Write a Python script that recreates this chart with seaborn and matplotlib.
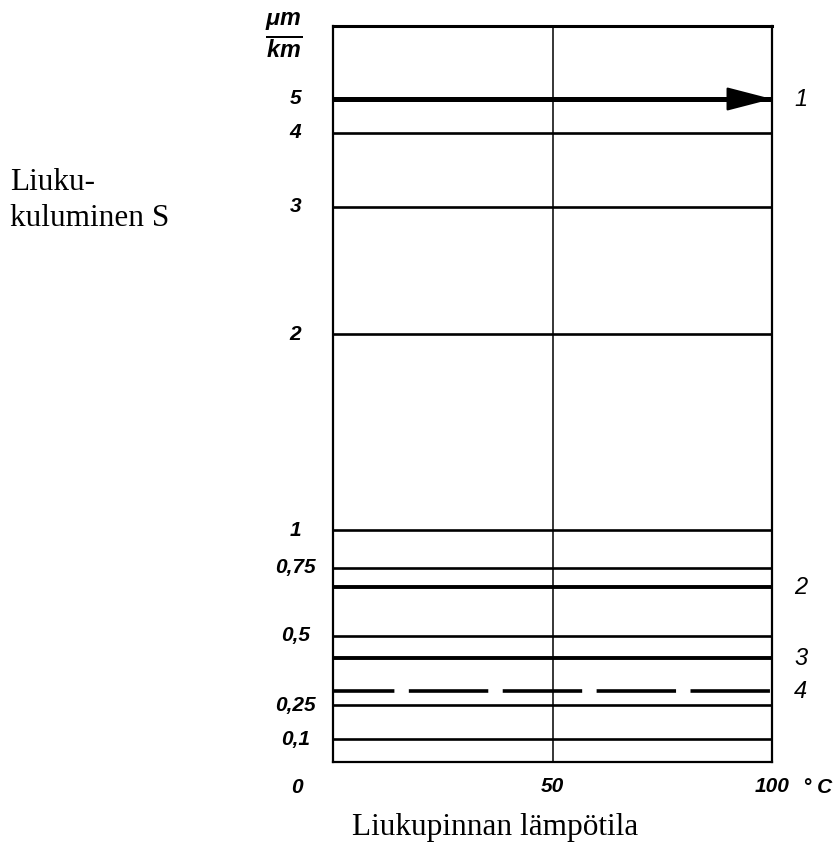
import numpy as np
import pandas as pd
import matplotlib
matplotlib.use("Agg")
import matplotlib.pyplot as plt
import matplotlib.transforms as mtransforms
import seaborn as sns

# ---------------- data ----------------
TEMP = [0, 100]                       # °C, lines are constant over temperature
CURVE_LABELS = ["1", "2", "3", "4"]
CURVE_WEAR = [5.0, 0.68, 0.42, 0.30]  # µm/km
Y_TICKS = [0.1, 0.25, 0.5, 0.75, 1, 2, 3, 4, 5]
Y_TICK_LABELS = ["0,1", "0,25", "0,5", "0,75", "1", "2", "3", "4", "5"]
X_TICKS = [50, 100]
X_TICK_LABELS = ["50", "100"]

# non-linear (hand drawn) value axis: value -> relative position
SCALE_VALS = [0, 0.1, 0.25, 0.5, 0.75, 1, 2, 3, 4, 5, 7]
SCALE_POS = [0, 23, 57, 126, 194, 232, 428, 555, 629, 663, 736]

rows = []
for lab, w in zip(CURVE_LABELS, CURVE_WEAR):
    for t in TEMP:
        rows.append({"curve": lab, "temp": t, "wear": w})
df = pd.DataFrame(rows)

# ---------------- style ----------------
sns.set_style("white")
plt.rcParams["font.family"] = ["Liberation Sans", "DejaVu Sans"]
plt.rcParams["text.color"] = "black"
plt.rcParams["xtick.color"] = "black"
plt.rcParams["ytick.color"] = "black"
plt.rcParams["mathtext.fontset"] = "custom"
plt.rcParams["mathtext.it"] = "Liberation Sans:italic:bold"
plt.rcParams["mathtext.rm"] = "Liberation Sans:bold"

W, H = 834, 846
fig = plt.figure(figsize=(W / 100, H / 100), dpi=100)
ax = fig.add_axes([333 / W, (H - 762) / H, (772 - 333) / W, (762 - 26) / H])

fwd = lambda v: np.interp(v, SCALE_VALS, SCALE_POS)
inv = lambda p: np.interp(p, SCALE_POS, SCALE_VALS)
ax.set_yscale("function", functions=(fwd, inv))

# grid: horizontal lines at each value tick, vertical at 50 °C
ax.set_yticks(Y_TICKS)
ax.set_yticklabels(Y_TICK_LABELS)
ax.set_xticks(X_TICKS)
ax.set_xticklabels(X_TICK_LABELS)
ax.yaxis.grid(True, color="black", lw=1.9)
ax.xaxis.grid(True, color="black", lw=1.1)
ax.set_axisbelow(True)

styles = {
    "1": dict(lw=3.6, ls="-"),
    "2": dict(lw=2.8, ls="-"),
    "3": dict(lw=2.8, ls="-"),
    "4": dict(lw=2.6, ls=(5.0, (22, 4))),
}
for lab in CURVE_LABELS:
    sub = df[df["curve"] == lab]
    st = styles[lab]
    sns.lineplot(data=sub, x="temp", y="wear", ax=ax, color="black",
                 lw=st["lw"], linestyle=st["ls"], legend=False,
                 solid_capstyle="butt", dash_capstyle="butt", zorder=3)

# arrow head on curve 1
w1 = CURVE_WEAR[0]
ax.annotate("", xy=(TEMP[1], w1), xytext=(TEMP[1] - 9.5, w1),
            arrowprops=dict(arrowstyle="-|>,head_length=2.9,head_width=0.75",
                            mutation_scale=10, color="black", lw=1.5,
                            shrinkA=0, shrinkB=0), zorder=4)

ax.set_xlim(0, 100)
ax.set_ylim(0, 7)
ax.set_xlabel("")
ax.set_ylabel("")

for s in ax.spines.values():
    s.set_color("black")
    s.set_linewidth(1.6)
    s.set_visible(True)
ax.spines["top"].set_linewidth(2.2)

tick_font = dict(family=["Liberation Sans", "DejaVu Sans"], weight="bold",
                 style="italic", size=15, color="black")
ax.tick_params(axis="both", length=0)
ax.tick_params(axis="y", pad=27)
ax.tick_params(axis="x", pad=11)
for t in ax.get_yticklabels():
    t.set(ha="center", va="center", **tick_font)
for t in ax.get_xticklabels():
    t.set(**tick_font)

# origin "0" and unit "°C" on the tick-label row
trans = mtransforms.blended_transform_factory(ax.transData, ax.transAxes)
ax.text(-8.2, -0.034, "0", transform=trans, ha="center", va="center",
        clip_on=False, **tick_font)
ax.text(110.5, -0.034, "° C", transform=trans, ha="center", va="center",
        clip_on=False, **tick_font)

# unit fraction at top of value axis
fig.text(284 / W, 1 - 35 / H, r"$\frac{\mu m}{km}$", ha="center", va="center",
         fontsize=24, color="black")

# curve labels on the right
for lab, w in zip(CURVE_LABELS, CURVE_WEAR):
    ax.text(106.5, w, lab, ha="center", va="center", clip_on=False,
            family=["Liberation Sans", "DejaVu Sans"], style="italic",
            size=17, color="black")

# axis titles (serif)
serif = ["Liberation Serif", "DejaVu Serif"]
fig.text(10 / W, 1 - 190 / H, "Liuku-", ha="left", va="baseline",
         family=serif, size=22.5, color="black")
fig.text(10 / W, 1 - 226 / H, "kuluminen S", ha="left", va="baseline",
         family=serif, size=22.5, color="black")
fig.text(495 / W, 1 - 835 / H, "Liukupinnan lämpötila", ha="center",
         va="baseline", family=serif, size=22.5, color="black")

fig.savefig("out.png", dpi=100, facecolor="white")
